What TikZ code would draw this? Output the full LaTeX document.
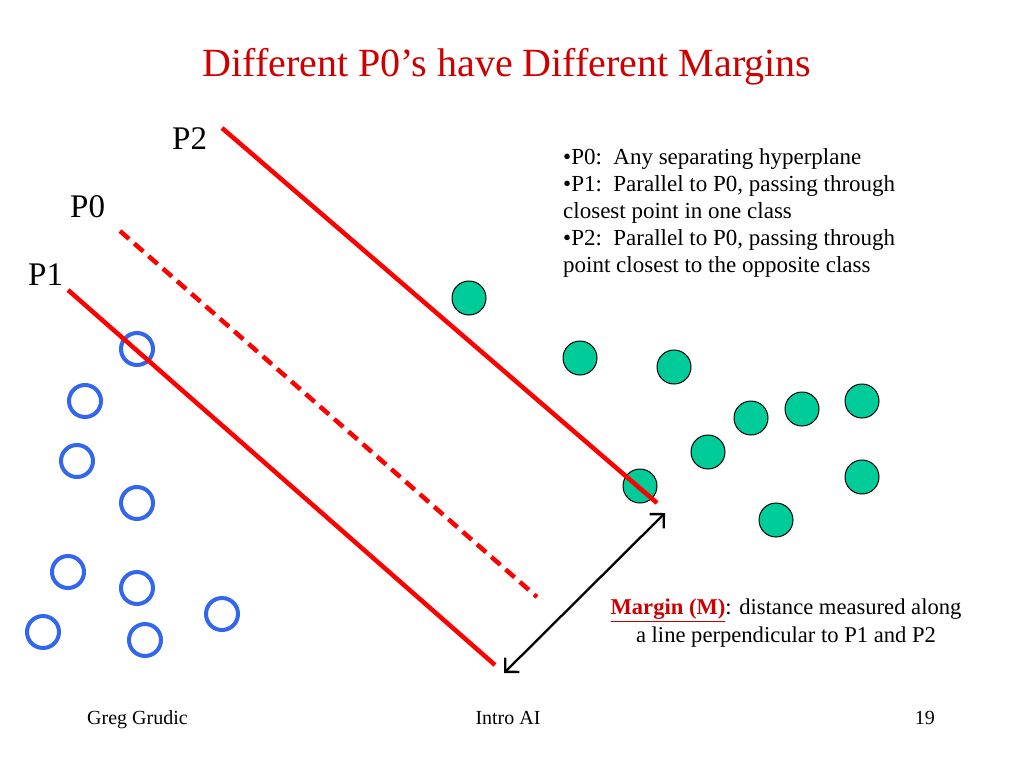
\documentclass[tikz,border=0pt]{standalone}
\usepackage{fontspec}
\setmainfont{Liberation Serif}
\usetikzlibrary{arrows.meta}
\definecolor{titlered}{HTML}{CC0000}
\definecolor{linered}{HTML}{FF0000}
\definecolor{ptblue}{HTML}{3366EE}
\definecolor{ptgreen}{HTML}{00CC99}
\tikzset{
  bluept/.style={circle,draw=ptblue,line width=4pt,minimum size=32pt,inner sep=0pt},
  greenpt/.style={circle,draw=black,fill=ptgreen,line width=1pt,minimum size=34pt,inner sep=0pt},
  plane/.style={draw=linered,line width=4.5pt},
  planedash/.style={draw=linered,line width=4.5pt,dash pattern=on 12pt off 7pt},
  lbl/.style={anchor=base west,inner sep=0pt,font=\fontsize{33}{40}\selectfont},
  body/.style={inner sep=0pt,font=\fontsize{23}{27}\selectfont},
  foot/.style={anchor=base,inner sep=0pt,font=\fontsize{20}{24}\selectfont},
  marginarrow/.style={draw=black,line width=2.3pt,{Straight Barb[length=10pt,width=20pt]}-{Straight Barb[length=10pt,width=20pt]}}
}
\begin{document}
\begin{tikzpicture}[x=1pt,y=-1pt]
\useasboundingbox (0,0) rectangle (1024,768);
% title
\node[anchor=base,inner sep=0pt,text=titlered,font=\fontsize{40}{48}\selectfont] (title) at (507,77) {Different P0’s have Different Margins};
% blue points
\node[bluept] (b1) at (137,349) {};
\node[bluept] (b2) at (85,401) {};
\node[bluept] (b3) at (77,461) {};
\node[bluept] (b4) at (137,503) {};
\node[bluept] (b5) at (68,572) {};
\node[bluept] (b6) at (137,588) {};
\node[bluept] (b7) at (43,632) {};
\node[bluept] (b8) at (145,640) {};
\node[bluept] (b9) at (222,614) {};
% green points
\node[greenpt] (g1) at (469,298) {};
\node[greenpt] (g2) at (580,358) {};
\node[greenpt] (g3) at (674,367) {};
\node[greenpt] (g4) at (751,418) {};
\node[greenpt] (g5) at (802,409) {};
\node[greenpt] (g6) at (862,401) {};
\node[greenpt] (g7) at (708,452) {};
\node[greenpt] (g8) at (640,486) {};
\node[greenpt] (g9) at (862,477) {};
\node[greenpt] (g10) at (776,520) {};
% hyperplanes
\coordinate (p2a) at (222,128);
\coordinate (p2b) at (657,503);
\coordinate (p0a) at (120,231);
\coordinate (p0b) at (537,597);
\coordinate (p1a) at (68,290);
\coordinate (p1b) at (495,665);
\draw[plane] (p2a) -- (p2b);
\draw[planedash] (p0a) -- (p0b);
\draw[plane] (p1a) -- (p1b);
% labels
\node[lbl] (lp2) at (172,149) {P2};
\node[lbl] (lp0) at (70,217) {P0};
\node[lbl] (lp1) at (28,285) {P1};
% margin arrow
\coordinate (ma) at (504,673);
\coordinate (mb) at (665,513);
\draw[marginarrow] (ma) -- (mb);
% bullet text
\node[body,anchor=north west,align=left] (bullets) at (563,148) {•P0:\ \ Any separating hyperplane\\
•P1:\ \ Parallel to P0, passing through\\
closest point in one class\\
•P2:\ \ Parallel to P0, passing through\\
point closest to the opposite class};
% margin text
\node[body,anchor=north,align=center,font=\fontsize{22.6}{28}\selectfont] (mtext) at (786,599) {{\color{titlered}\bfseries\underline{Margin (M)}}: distance measured along\\
a line perpendicular to P1 and P2};
% footer
\node[foot,anchor=base west] (f1) at (87,724) {Greg Grudic};
\node[foot] (f2) at (508,724) {Intro AI};
\node[foot,anchor=base east] (f3) at (935,724) {19};
\end{tikzpicture}
\end{document}
